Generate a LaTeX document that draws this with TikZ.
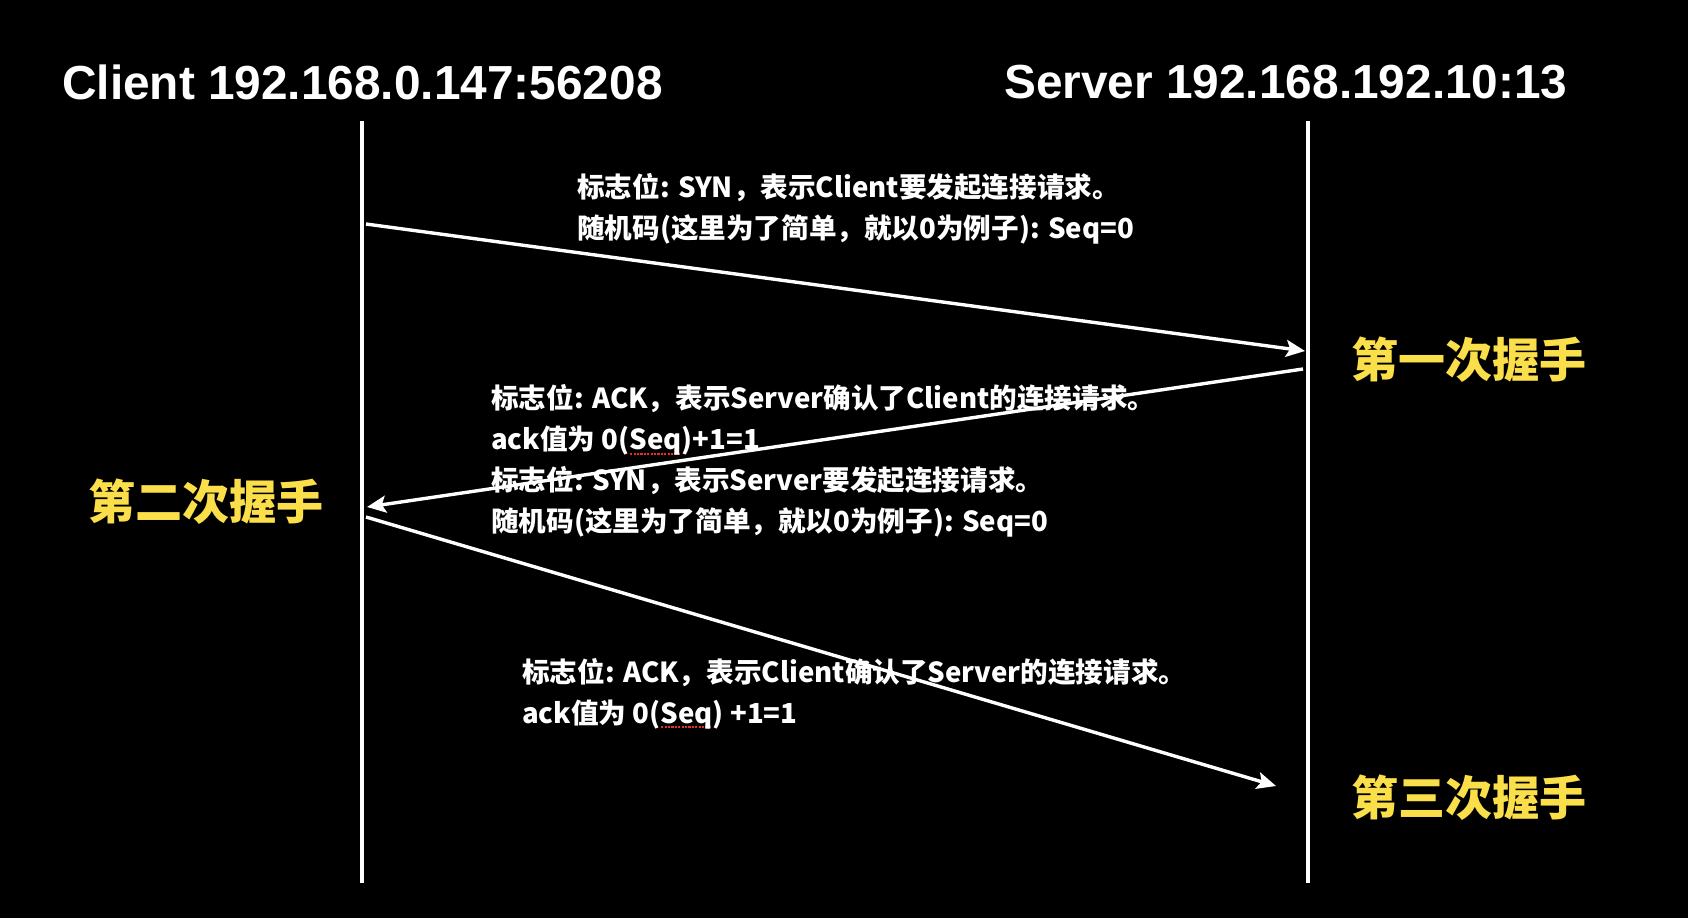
\documentclass[tikz,border=0pt]{standalone}
\usepackage{fontspec}
\setmainfont{Liberation Sans}
\newfontfamily\cjk{Noto Sans CJK SC}
\usetikzlibrary{arrows.meta}
\definecolor{hsyellow}{RGB}{250,222,74}
\definecolor{spellred}{RGB}{235,45,45}
\newsavebox\spbox
\newcommand\spellmark[1]{\sbox\spbox{#1}\rlap{\raisebox{-5pt}{\color{spellred}\leaders\hbox to 3.4pt{\hss\rule{2.2pt}{2.2pt}\hss}\hskip\wd\spbox}}\usebox\spbox}
\tikzset{
  lifeline/.style={draw=white, line width=3.4pt},
  msg/.style={draw=white, line width=3.4pt, -{Stealth[length=19pt,width=17pt,inset=4pt]}},
  title/.style={text=white, inner sep=0pt, font=\bfseries\fontsize{47.8}{50}\selectfont},
  note/.style={text=white, inner sep=0pt, align=left, font=\cjk\bfseries\fontsize{27.6}{41}\selectfont},
  phase/.style={text=hsyellow, inner sep=0pt, font=\cjk\bfseries\fontsize{47}{50}\selectfont}
}
\begin{document}
\begin{tikzpicture}[x=1pt,y=-1pt]
\fill[black] (0,0) rectangle (1688,918);
\useasboundingbox (0,0) rectangle (1688,918);
% titles
\node[title, anchor=west] (client) at (62,82) {Client 192.168.0.147:56208};
\node[title, anchor=west] (server) at (1004,82) {Server 192.168.192.10:13};
% lifelines
\coordinate (ctop) at (362,121);
\coordinate (cbot) at (362,883);
\coordinate (stop) at (1308,121);
\coordinate (sbot) at (1308,883);
\draw[lifeline] (ctop) -- (cbot);
\draw[lifeline] (stop) -- (sbot);
% message end points
\coordinate (m1s) at (366,224);
\coordinate (m1e) at (1305,351);
\coordinate (m2s) at (1303,369);
\coordinate (m2e) at (367,507);
\coordinate (m3s) at (366,517);
\coordinate (m3e) at (1276,786);
\draw[msg] (m1s) -- (m1e);
\draw[msg] (m2s) -- (m2e);
\draw[msg] (m3s) -- (m3e);
% notes
\node[note, anchor=west] (n1) at (577,208.5) {标志位: SYN，表示Client要发起连接请求。\\随机码(这里为了简单，就以0为例子): Seq=0};
\node[note, anchor=west] (n2) at (491,461) {标志位: ACK，表示Server确认了Client的连接请求。\\ack值为 0(\spellmark{Seq})+1=1\\标志位: SYN，表示Server要发起连接请求。\\随机码(这里为了简单，就以0为例子): Seq=0};
\node[note, anchor=west] (n3) at (522,693.5) {标志位: ACK，表示Client确认了Server的连接请求。\\ack值为 0(\spellmark{Seq}) +1=1};
% phases
\node[phase, anchor=west] (p1) at (1351,360) {第一次握手};
\node[phase, anchor=west] (p2) at (88,502) {第二次握手};
\node[phase, anchor=west] (p3) at (1351,798) {第三次握手};
\end{tikzpicture}
\end{document}
